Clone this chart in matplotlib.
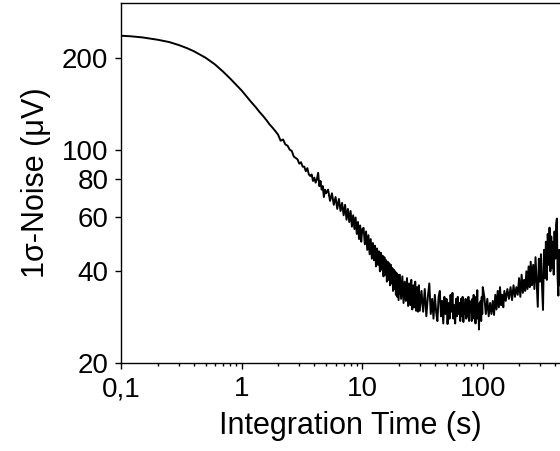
import matplotlib
matplotlib.use("Agg")
import matplotlib.pyplot as plt
from matplotlib.ticker import FixedLocator, NullLocator, LogLocator, NullFormatter

plt.rcParams['font.family'] = ['Liberation Sans', 'DejaVu Sans']

# Integration time (s) and 1-sigma noise (uV)
tau_smooth = [0.1, 0.12, 0.15, 0.2, 0.25, 0.3, 0.35, 0.4, 0.5, 0.6, 0.7, 0.8, 0.9, 1.0,
              1.1, 1.2, 1.3, 1.4, 1.5, 1.6, 1.7, 1.8, 1.9, 2.0]
noise_smooth = [236, 235, 233, 229, 225, 220, 215, 210, 200, 190, 180, 171, 163, 156,
                149, 143, 138, 133, 129, 125, 121, 118, 115, 112]

tau_a = [2.1, 2.2, 2.3, 2.4, 2.5, 2.6, 2.7, 2.8, 2.9, 3.0, 3.1, 3.2, 3.3, 3.4, 3.5, 3.6, 3.7,
         3.8, 3.9, 4.0, 4.1, 4.2, 4.3, 4.4, 4.5, 4.6, 4.7, 4.8, 4.9, 5.0]
noise_a = [107, 108, 104, 103, 100, 99, 95, 94, 93, 90, 91, 88, 88, 85, 87, 83, 82,
           83, 79, 81, 78, 80, 84, 76, 79, 74, 76, 70, 74, 72]

tau_b = [5.2, 5.4, 5.6, 5.8, 6.0, 6.2, 6.4, 6.6, 6.8, 7.0, 7.2, 7.4, 7.6, 7.8, 8.0, 8.2, 8.4,
         8.6, 8.8, 9.0, 9.2, 9.4, 9.6, 9.8, 10.0]
noise_b = [74, 68, 72, 66, 70, 64, 69, 63, 67, 61, 66, 59, 64, 58, 63, 56, 61,
           55, 60, 53, 58, 51, 56.5, 50, 55]

tau_c = [10.25, 10.5, 10.75, 11.0, 11.25, 11.5, 11.75, 12.0, 12.25, 12.5, 12.75, 13.0,
         13.25, 13.5, 13.75, 14.0, 14.25, 14.5, 14.75, 15.0, 15.25, 15.5, 15.75, 16.0,
         16.25, 16.5, 16.75, 17.0, 17.25, 17.5, 17.75, 18.0, 18.25, 18.5, 18.75, 19.0,
         19.25, 19.5, 19.75, 20.0]
noise_c = [55.5, 49, 54, 47, 52.5, 45.5, 51, 44, 49.5, 43.5, 48.5, 41.5,
           47.5, 42, 46.5, 40, 46, 40.5, 45, 38.5, 44.5, 39, 43.5, 37,
           43, 37.5, 42.5, 36, 42, 36.5, 41, 34.5, 40.5, 35, 40, 33.5,
           39.5, 33, 39, 32.2]

tau_d = [20.5, 21.0, 21.5, 22.0, 22.5, 23.0, 23.5, 24.0, 24.5, 25.0, 25.5, 26.0, 26.5,
         27.0, 27.5, 28.0, 28.5, 29.0, 29.5, 30.0]
noise_d = [39, 32.5, 38.5, 31.5, 37, 32, 38, 30.8, 36.5, 31, 37.5, 30, 36,
           30.5, 37, 29.7, 35.5, 29.5, 36, 29.7]

tau_e = [31, 32, 33, 34, 35, 36, 37, 38, 39, 40, 41, 42, 43, 44, 45, 46, 47, 48, 49, 50,
         51, 52, 53, 54, 55, 56, 57, 58, 59, 60, 61, 62, 63, 64, 65, 66, 67, 68, 69, 70,
         71, 72, 73, 74, 75, 76, 77, 78, 79, 80, 81, 82, 83, 84, 85, 86, 87, 88, 89, 90,
         91, 92, 93, 94, 95, 96, 97, 98, 99, 100]
noise_e = [34.5, 29.5, 35, 28.5, 33, 36.5, 29, 32.5, 28, 33.5, 29.5, 27.5, 33, 34.5, 28.5,
           32, 27, 33, 29, 32.5, 26.9, 31.5, 28, 33.5, 29.5, 34, 28, 31, 27, 32.5,
           28.5, 33, 29, 31.5, 27.5, 32.5, 28.5, 33, 27.3, 31.5, 29, 32.5, 28, 31, 28.5,
           33, 27.5, 32, 29.5, 31.5, 27.5, 32.5, 28.5, 33.5, 28, 31, 27, 33, 29, 34.7,
           28, 30.5, 25.8, 31.5, 28.5, 32, 27.5, 33, 29, 35.5]

tau_f = [103, 106, 109, 112, 115, 118, 121, 124, 127, 130, 133, 136, 139, 142, 145, 148,
         151, 155, 160, 165, 170, 175, 180, 185, 190, 195, 200, 205, 210, 215, 220, 225,
         230, 235, 240, 245, 250, 256, 262, 268, 274, 280, 286, 292, 298, 304, 310, 316,
         322, 328, 334, 340, 346, 352, 358, 364, 370, 376, 382, 388, 394, 400, 406, 412,
         418, 424, 430, 436, 442, 450]
noise_f = [33, 29, 32.5, 28.5, 31.5, 29, 32, 28.8, 33.5, 30, 34.5, 30.5, 35.5, 31, 33.5, 30.5,
           34.5, 32, 35, 32.5, 35.5, 32.2, 36, 33, 35.5, 33.5, 38, 33, 39, 34, 37.5, 34.5,
           40, 35, 41.5, 35.5, 43, 36, 42, 35, 44.5, 36.5, 30.6, 44, 37, 45.5, 36, 29.9,
           47, 38, 50, 37.5, 53, 42, 55.6, 40, 52, 41, 50, 39, 54, 44, 57, 59.5,
           38, 33.3, 47, 36, 45, 34]

tau = tau_smooth + tau_a + tau_b + tau_c + tau_d + tau_e + tau_f
noise = noise_smooth + noise_a + noise_b + noise_c + noise_d + noise_e + noise_f

x_ticks = [0.1, 1, 10, 100]
x_tick_labels = ["0,1", "1", "10", "100"]
y_ticks = [20, 40, 60, 80, 100, 200]
y_tick_labels = ["20", "40", "60", "80", "100", "200"]

fig = plt.figure(figsize=(5.6, 4.51), dpi=100)
ax = fig.add_axes([121.3 / 560, 87.7 / 451, (580 - 121.3) / 560, (360.3) / 451])
ax.plot(tau, noise, color='black', lw=1.4)
ax.set_xscale('log')
ax.set_yscale('log')
ax.set_xlim(0.1, 641)
ax.set_ylim(20, 302)

ax.xaxis.set_major_locator(FixedLocator(x_ticks))
ax.set_xticklabels(x_tick_labels)
ax.xaxis.set_minor_locator(LogLocator(base=10, subs=[2, 3, 4, 5, 6, 7, 8, 9], numticks=20))
ax.xaxis.set_minor_formatter(NullFormatter())
ax.yaxis.set_major_locator(FixedLocator(y_ticks))
ax.set_yticklabels(y_tick_labels)
ax.yaxis.set_minor_locator(NullLocator())

ax.tick_params(axis='both', which='major', direction='out', length=4.3, width=1.0,
               labelsize=20, pad=5)
ax.tick_params(axis='x', which='minor', direction='out', length=2.5, width=1.0)
for s in ['left', 'bottom', 'top', 'right']:
    ax.spines[s].set_linewidth(1.0)
ax.spines['right'].set_visible(False)

ax.set_xlabel('Integration Time (s)', fontsize=22, labelpad=6)
ax.set_ylabel('1\u03c3-Noise (\u03bcV)', fontsize=22, labelpad=8)

fig.savefig('out.png', dpi=100)
